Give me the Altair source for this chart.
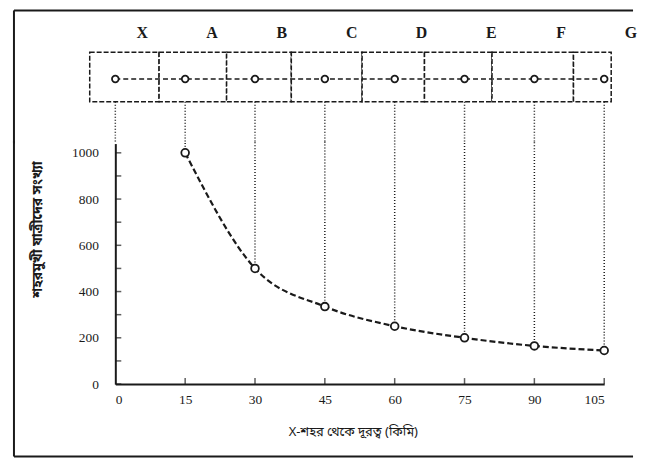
import altair as alt
import pandas as pd

# ---- data ----
stations = ["X", "A", "B", "C", "D", "E", "F", "G"]
station_km = [0, 15, 30, 45, 60, 75, 90, 105]
dist_km = [15, 30, 45, 60, 75, 90, 105]
commuters = [1000, 500, 335, 250, 200, 165, 145]
x_tick_values = [0, 15, 30, 45, 60, 75, 90, 105]
y_tick_values = [0, 200, 400, 600, 800, 1000]
y_minor_ticks = [0, 100, 200, 300, 400, 500, 600, 700, 800, 900, 1000]
region_left = [-5.5, 9.4, 23.9, 37.8, 53.0, 66.4, 80.9, 98.4]
region_right = [9.4, 23.9, 37.8, 53.0, 66.4, 80.9, 98.4, 106.5]

x_title = "X-শহর থেকে দূরত্ব (কিমি)"
y_title = "শহরমুখী যাত্রীদের সংখ্যা"

INK = "#1a1a1a"
SERIF = "Liberation Serif"
BENGALI = "Noto Sans Bengali, Noto Serif Bengali, Lohit Bengali, Noto Sans, sans-serif"

W = 492
H_MAIN = 242
H_STRIP = 122
X_DOMAIN = [0, 105]
Y_DOMAIN = [0, 1040]

xs = alt.Scale(domain=X_DOMAIN, nice=False, zero=False)
ys = alt.Scale(domain=Y_DOMAIN, nice=False)

x_axis = alt.Axis(
    values=x_tick_values, title=x_title, grid=False, tickSize=0,
    domainColor=INK, domainWidth=2, labelFont=SERIF, labelFontSize=13.5,
    labelColor=INK, labelPadding=9, titleFont=BENGALI, titleFontSize=13,
    titleFontWeight="normal", titleColor=INK, titleX=239, titleY=48,
    titleBaseline="middle", titleAlign="center",
)
y_axis = alt.Axis(
    values=y_tick_values, format="d", title=y_title, grid=False, tickSize=0,
    domainColor=INK, domainWidth=2, labelFont=SERIF, labelFontSize=13.5,
    labelColor=INK, labelPadding=17, titleFont=BENGALI, titleFontSize=14,
    titleFontWeight="bold", titleColor=INK, titleX=-78, titleY=86,
    titleAngle=270, titleAlign="center", titleBaseline="middle",
)

df_pts = pd.DataFrame({"km": dist_km, "n": commuters})
df_st = pd.DataFrame({"km": station_km, "name": stations})
df_reg = pd.DataFrame({"x0": region_left, "x1": region_right})
df_ytk = pd.DataFrame({"v": y_minor_ticks})
one = alt.Data(values=[{"k": 1}])

# ---------------- top strip (schematic of settlements) ----------------
boxes = alt.Chart(df_reg).mark_rect(
    fill="white", stroke=INK, strokeWidth=1.5, strokeDash=[5, 2]
).encode(
    x=alt.X("x0:Q", scale=xs, axis=None),
    x2="x1:Q",
    y=alt.value(30),
    y2=alt.value(80),
)

strip_line = alt.Chart(df_st).mark_rule(
    color=INK, strokeWidth=1.5, strokeDash=[5, 3]
).encode(
    x=alt.X("min(km):Q", scale=xs, axis=None),
    x2="max(km):Q",
    y=alt.value(57),
)

strip_drops = alt.Chart(df_st).mark_rule(
    color=INK, strokeWidth=1.5, strokeDash=[1, 2]
).encode(
    x=alt.X("km:Q", scale=xs, axis=None),
    y=alt.value(80),
    y2=alt.value(H_STRIP),
)

strip_pts = alt.Chart(df_st).mark_point(
    shape="circle", size=45, filled=True, fill="white", stroke=INK, strokeWidth=1.8, opacity=1
).encode(
    x=alt.X("km:Q", scale=xs, axis=None),
    y=alt.value(57),
)

letters = alt.Chart(df_st).mark_text(
    dx=27, font=SERIF, fontSize=16, fontWeight="bold", color=INK
).encode(
    x=alt.X("km:Q", scale=xs, axis=None),
    y=alt.value(11),
    text="name:N",
)

frame_top_left = alt.Chart(one).mark_rule(color=INK, strokeWidth=2).encode(
    x=alt.value(-102), y=alt.value(-12), y2=alt.value(H_STRIP)
)
frame_top = alt.Chart(one).mark_rule(color=INK, strokeWidth=2).encode(
    x=alt.value(-102), x2=alt.value(521), y=alt.value(-12)
)

strip = alt.layer(
    frame_top_left, frame_top, boxes, strip_line, strip_drops, strip_pts, letters
).properties(width=W, height=H_STRIP)

# ---------------- main plot ----------------
drops = alt.Chart(df_pts).mark_rule(
    color=INK, strokeWidth=1.5, strokeDash=[1, 2]
).encode(
    x=alt.X("km:Q", scale=xs, axis=x_axis),
    y=alt.Y("n:Q", scale=ys, axis=y_axis),
    y2=alt.value(-2),
)

curve = alt.Chart(df_pts).mark_line(
    color=INK, strokeWidth=2.2, strokeDash=[6, 3], interpolate="monotone"
).encode(
    x=alt.X("km:Q", scale=xs, axis=x_axis),
    y=alt.Y("n:Q", scale=ys, axis=y_axis),
)

pts = alt.Chart(df_pts).mark_point(
    shape="circle", size=60, filled=True, fill="white", stroke=INK, strokeWidth=1.8, opacity=1
).encode(
    x=alt.X("km:Q", scale=xs, axis=x_axis),
    y=alt.Y("n:Q", scale=ys, axis=y_axis),
)

xticks = alt.Chart(df_pts).mark_tick(
    orient="vertical", size=6, thickness=1.5, color=INK
).encode(
    x=alt.X("km:Q", scale=xs, axis=x_axis),
    y=alt.value(H_MAIN - 3),
)

yticks = alt.Chart(df_ytk).mark_tick(
    orient="horizontal", size=6, thickness=1.5, color=INK
).encode(
    y=alt.Y("v:Q", scale=ys, axis=y_axis),
    x=alt.value(3),
)

frame_bot_left = alt.Chart(one).mark_rule(color=INK, strokeWidth=2).encode(
    x=alt.value(-102), y=alt.value(-3), y2=alt.value(315)
)
frame_bot = alt.Chart(one).mark_rule(color=INK, strokeWidth=2).encode(
    x=alt.value(-102), x2=alt.value(521), y=alt.value(315)
)

main = alt.layer(
    drops, curve, xticks, yticks, pts, frame_bot_left, frame_bot
).properties(width=W, height=H_MAIN)

chart = alt.vconcat(strip, main, spacing=0, bounds="flush").resolve_scale(
    x="independent", y="independent"
).properties(
    padding={"left": 5, "top": 0, "right": 0, "bottom": 0},
    background="white",
).configure_view(stroke=None)

chart.save("out.html", embed_options={"renderer": "svg", "actions": False})
